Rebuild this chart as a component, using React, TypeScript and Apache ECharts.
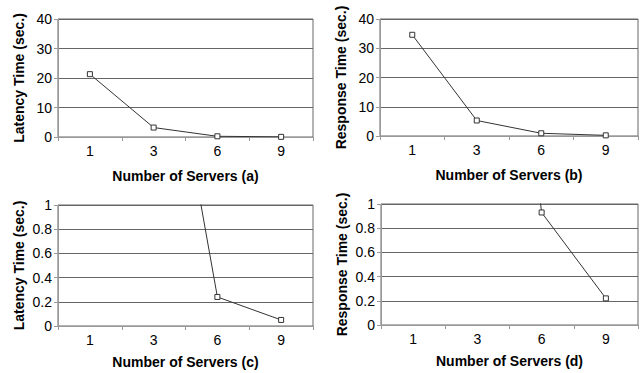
import React, { useEffect, useRef } from "react";
import * as echarts from "echarts";

const servers = ["1", "3", "6", "9"];
const latency = [21.3, 3.2, 0.24, 0.05];
const response = [34.6, 5.3, 0.93, 0.22];
const panelLabels = ["(a)", "(b)", "(c)", "(d)"];

const FONT = "Liberation Sans, Arial, sans-serif";

export default function App() {
  const ref = useRef<HTMLDivElement>(null);
  useEffect(() => {
    if (!ref.current) return;
    const chart = echarts.init(ref.current, undefined, { renderer: "svg" });
    const grids = [
      { left: 58, top: 19, width: 255, height: 118 },
      { left: 380, top: 19, width: 258, height: 117 },
      { left: 58, top: 205, width: 255, height: 121 },
      { left: 381, top: 204, width: 257, height: 121 },
    ];
    const yNames = ["Latency Time (sec.)", "Response Time (sec.)", "Latency Time (sec.)", "Response Time (sec.)"];
    const yMax = [40, 40, 1, 1];
    const yInt = [10, 10, 0.2, 0.2];
    const xGap = [32, 32, 29, 29];
    const datas = [latency, response, latency, response];
    chart.setOption({
      animation: false,
      backgroundColor: "#fff",
      grid: grids.map((g) => ({ ...g, show: true, borderColor: "#666", borderWidth: 1, backgroundColor: "transparent" })),
      xAxis: grids.map((_, i) => ({
        type: "category",
        gridIndex: i,
        data: servers,
        boundaryGap: true,
        name: "Number of Servers " + panelLabels[i],
        nameLocation: "middle",
        nameGap: xGap[i],
        nameTextStyle: { fontFamily: FONT, fontWeight: "bold", fontSize: 14, color: "#000" },
        axisLine: { lineStyle: { color: "#999", width: 1 } },
        axisTick: { show: true, length: 4, lineStyle: { color: "#999" } },
        axisLabel: { fontFamily: FONT, fontSize: 14, color: "#000", margin: 7 },
        splitLine: { show: false },
      })),
      yAxis: grids.map((_, i) => ({
        type: "value",
        gridIndex: i,
        min: 0,
        max: yMax[i],
        interval: yInt[i],
        name: yNames[i],
        nameLocation: "middle",
        nameGap: 32,
        nameTextStyle: { fontFamily: FONT, fontWeight: "bold", fontSize: 14, color: "#000" },
        axisLine: { show: true, lineStyle: { color: "#999", width: 1 } },
        axisTick: { show: true, length: 4, lineStyle: { color: "#999" } },
        axisLabel: {
          fontFamily: FONT,
          fontSize: 14,
          color: "#000",
          margin: 6,
          formatter: (v: number) => String(Math.round(v * 10) / 10),
        },
        splitLine: { show: true, lineStyle: { color: "#666", width: 1 } },
      })),
      series: datas.map((d, i) => ({
        type: "line",
        xAxisIndex: i,
        yAxisIndex: i,
        data: d,
        clip: true,
        symbol: "rect",
        symbolSize: 5,
        itemStyle: { color: "#fff", borderColor: "#333", borderWidth: 1 },
        lineStyle: { color: "#333", width: 1 },
        z: 3,
      })),
    });
    return () => chart.dispose();
  }, []);
  return (
    <div
      ref={ref}
      style={{ position: "fixed", left: 0, top: 0, width: 642, height: 373, background: "#fff" }}
    />
  );
}
